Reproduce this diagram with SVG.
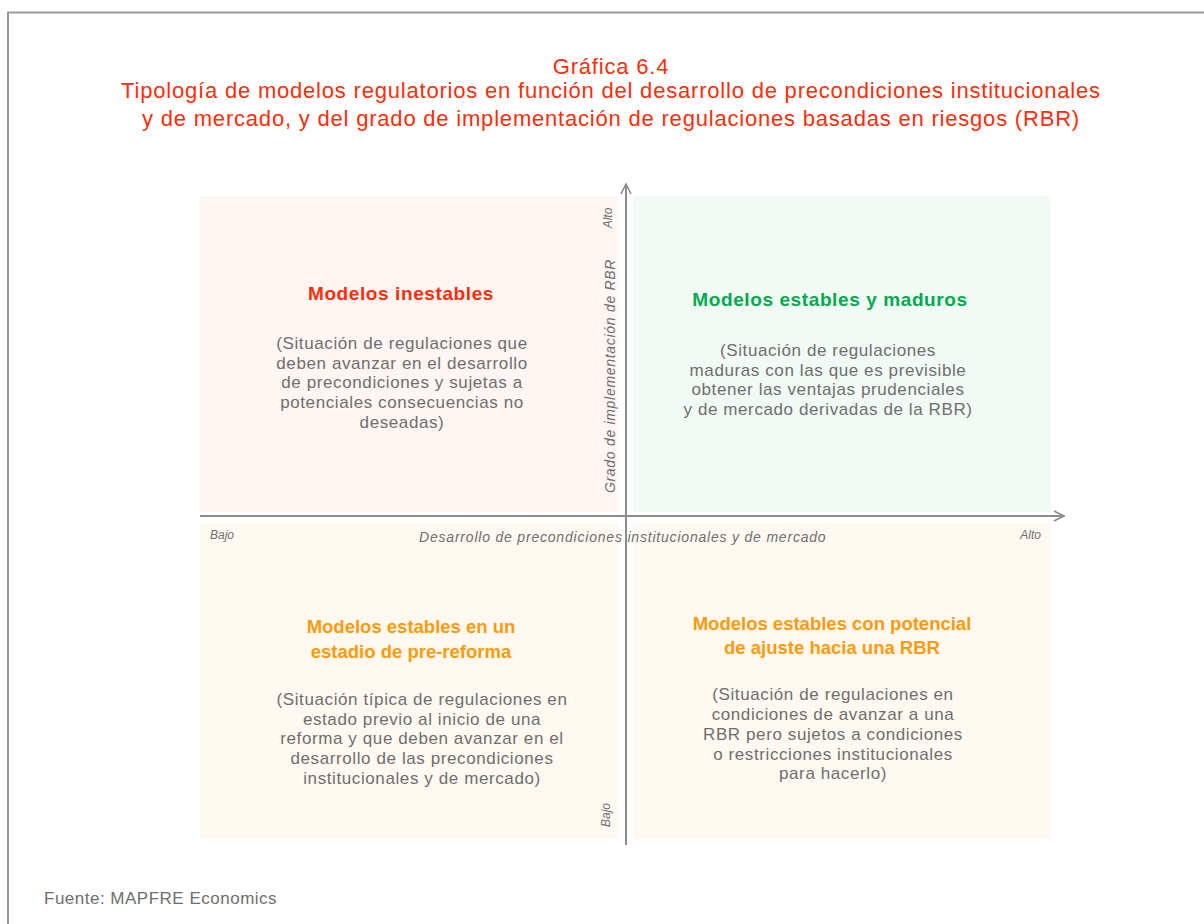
<svg xmlns="http://www.w3.org/2000/svg" width="1204" height="924" viewBox="0 0 1204 924">
<defs>
<marker id="arr" viewBox="0 0 12 12" refX="11" refY="6" markerWidth="12" markerHeight="12" markerUnits="userSpaceOnUse" orient="auto">
<path d="M1,1 L11,6 L1,11" fill="none" stroke="#8c8c8c" stroke-width="1.6"/>
</marker>
</defs>
<style>
text{font-family:"Liberation Sans","DejaVu Sans",sans-serif}
.ttl{fill:#ff2d0a;font-size:22px;letter-spacing:0.8px;text-anchor:middle}
.qh{font-size:19px;font-weight:bold;letter-spacing:0.6px;text-anchor:middle}
.qhn{font-size:18.5px;font-weight:bold;letter-spacing:0px;text-anchor:middle;fill:#ff9a0a}
.body{fill:#6e6e6e;font-size:17px;letter-spacing:0.6px;text-anchor:middle}
.ax{fill:#6e6e6e;font-style:italic;font-size:12px}
.axl{fill:#6e6e6e;font-style:italic;font-size:14px;letter-spacing:0.8px}
.axv{fill:#6e6e6e;font-style:italic;font-size:14px;letter-spacing:0.7px}
.axis{stroke:#8c8c8c;stroke-width:2;fill:none}
</style>
<rect width="1204" height="924" fill="#ffffff"/>
<path d="M8,924 V12.5 H1204" fill="none" stroke="#999999" stroke-width="2"/>
<g id="title">
<text class="ttl" x="611" y="74">Gráfica 6.4</text>
<text class="ttl" x="611" y="98">Tipología de modelos regulatorios en función del desarrollo de precondiciones institucionales</text>
<text class="ttl" x="611" y="126">y de mercado, y del grado de implementación de regulaciones basadas en riesgos (RBR)</text>
</g>
<g id="q-inestables">
<rect x="200" y="196" width="418" height="316" fill="#fff5f3"/>
<text class="qh" x="401" y="300" fill="#ff2d0a">Modelos inestables</text>
<text class="body" x="402" y="349">(Situación de regulaciones que</text>
<text class="body" x="402" y="368.5">deben avanzar en el desarrollo</text>
<text class="body" x="402" y="388">de precondiciones y sujetas a</text>
<text class="body" x="402" y="408">potenciales consecuencias no</text>
<text class="body" x="402" y="427.5">deseadas)</text>
</g>
<g id="q-maduros">
<rect x="633" y="196" width="418" height="316" fill="#f2faf5"/>
<text class="qh" x="830" y="306" fill="#00aa4f">Modelos estables y maduros</text>
<text class="body" x="828" y="356">(Situación de regulaciones</text>
<text class="body" x="828" y="376">maduras con las que es previsible</text>
<text class="body" x="828" y="395">obtener las ventajas prudenciales</text>
<text class="body" x="828" y="415">y de mercado derivadas de la RBR)</text>
</g>
<g id="q-prereforma">
<rect x="200" y="523" width="418" height="316" fill="#fff9f2"/>
<text class="qhn" x="411" y="633">Modelos estables en un</text>
<text class="qhn" x="411" y="658">estadio de pre-reforma</text>
<text class="body" x="422" y="705">(Situación típica de regulaciones en</text>
<text class="body" x="422" y="724.5">estado previo al inicio de una</text>
<text class="body" x="422" y="744">reforma y que deben avanzar en el</text>
<text class="body" x="422" y="764">desarrollo de las precondiciones</text>
<text class="body" x="422" y="783.5">institucionales y de mercado)</text>
</g>
<g id="q-ajuste">
<rect x="633" y="523" width="418" height="316" fill="#fff9f2"/>
<text class="qhn" x="832" y="630">Modelos estables con potencial</text>
<text class="qhn" x="832" y="654">de ajuste hacia una RBR</text>
<text class="body" x="833" y="700">(Situación de regulaciones en</text>
<text class="body" x="833" y="720">condiciones de avanzar a una</text>
<text class="body" x="833" y="740">RBR pero sujetos a condiciones</text>
<text class="body" x="833" y="759.5">o restricciones institucionales</text>
<text class="body" x="833" y="779">para hacerlo)</text>
</g>
<g id="axes">
<line class="axis" x1="200" y1="516" x2="1064" y2="516" marker-end="url(#arr)"/>
<line class="axis" x1="626" y1="845" x2="626" y2="184" marker-end="url(#arr)"/>
</g>
<g id="axis-labels">
<text class="ax" x="210" y="539">Bajo</text>
<text class="axl" x="419" y="542">Desarrollo de precondiciones institucionales y de mercado</text>
<text class="ax" x="1041" y="539" text-anchor="end">Alto</text>
<text class="ax" transform="translate(612,218) rotate(-90)" text-anchor="middle">Alto</text>
<text class="axv" transform="translate(615,376) rotate(-90)" text-anchor="middle">Grado de implementación de RBR</text>
<text class="ax" transform="translate(610,815) rotate(-90)" text-anchor="middle">Bajo</text>
</g>
<text x="44" y="904" fill="#6e6e6e" font-size="17" letter-spacing="0.5">Fuente: MAPFRE Economics</text>
</svg>
